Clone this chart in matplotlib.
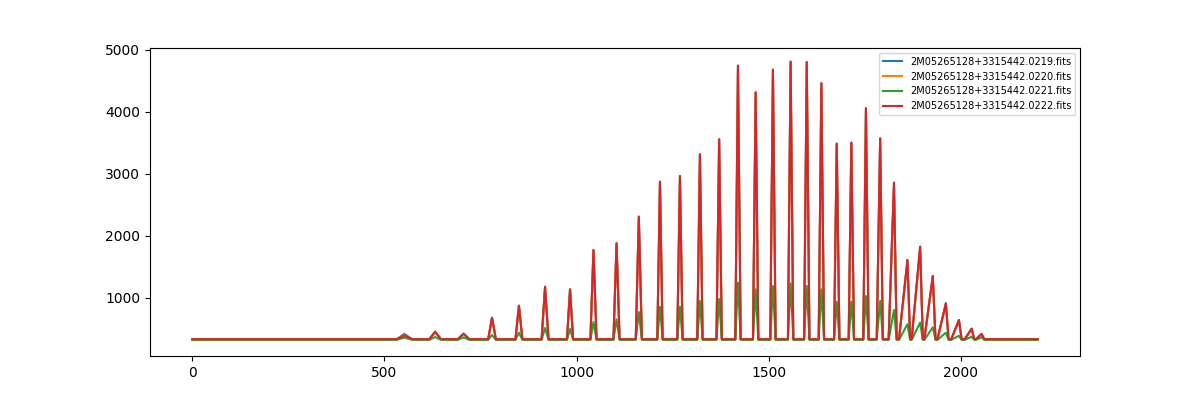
import numpy as np
import matplotlib
matplotlib.use('Agg')
import matplotlib.pyplot as plt

# file names used as legend labels
fileNames = ['2M05265128+3315442.0219.fits',
             '2M05265128+3315442.0220.fits',
             '2M05265128+3315442.0221.fits',
             '2M05265128+3315442.0222.fits']

# pixel index of each emission peak
peakX = [552, 632, 706, 780, 850, 918, 983, 1044, 1104, 1162, 1217, 1269,
         1321, 1371, 1420, 1466, 1511, 1557, 1599, 1637, 1677, 1715, 1753,
         1790, 1826, 1861, 1894, 1927, 1961, 1995, 2028, 2054]

# peak heights per file
peak0219 = [420, 456, 424, 682, 876, 1182, 1140, 1774, 1882, 2312, 2876, 2968,
            3318, 3560, 4747, 4318, 4683, 4812, 4806, 4463, 3489, 3505, 4060,
            3576, 2860, 1613, 1827, 1355, 914, 645, 505, 419]
peak0220 = [400, 452, 420, 676, 870, 1176, 1134, 1766, 1874, 2300, 2864, 2956,
            3306, 3548, 4735, 4306, 4671, 4800, 4794, 4451, 3477, 3493, 4048,
            3560, 2800, 1560, 1780, 1320, 890, 630, 495, 412]
peak0221 = [360, 370, 365, 403, 440, 516, 500, 613, 656, 774, 860, 860,
            952, 984, 1247, 1140, 1194, 1231, 1194, 1140, 940, 940, 1032,
            952, 806, 576, 602, 527, 440, 390, 375, 365]
peak0222 = [395, 456, 424, 682, 876, 1182, 1140, 1774, 1882, 2312, 2876, 2968,
            3318, 3560, 4747, 4318, 4683, 4812, 4806, 4463, 3489, 3505, 4060,
            3576, 2860, 1613, 1827, 1355, 914, 645, 505, 419]

# continuum level for each file
baseLevels = [335, 335, 325, 335]

# rise / fall extent of each peak in pixels
riseW = [20, 15, 15, 10, 9, 9, 8, 8, 8, 8, 7, 7, 7, 7, 7, 7, 7, 7, 7, 7, 7, 7,
         7, 9, 14, 22, 22, 22, 22, 20, 18, 15]
fallW = [20, 15, 15, 10, 9, 9, 8, 8, 8, 8, 7, 7, 7, 7, 7, 7, 7, 7, 7, 7, 7, 7,
         7, 7, 7, 7, 7, 7, 7, 7, 7, 7]

xStart = 0
xEnd = 2200


def buildSpectrum(heights, base):
    xs = [xStart]
    ys = [base]
    for c, h, lw, rw in zip(peakX, heights, riseW, fallW):
        xs += [c - lw, c, c + rw]
        ys += [base, h, base]
    xs.append(xEnd)
    ys.append(base)
    return np.array(xs), np.array(ys)


plt.figure(figsize=(12, 4), dpi=100)
for heights, base, name in zip([peak0219, peak0220, peak0221, peak0222],
                               baseLevels, fileNames):
    x, y = buildSpectrum(heights, base)
    plt.plot(x, y, label=name)

plt.xlim(-110, 2310)
plt.ylim(64, 5032)
plt.legend(loc='upper right', fontsize=7)
plt.savefig('out.png', dpi=100)
